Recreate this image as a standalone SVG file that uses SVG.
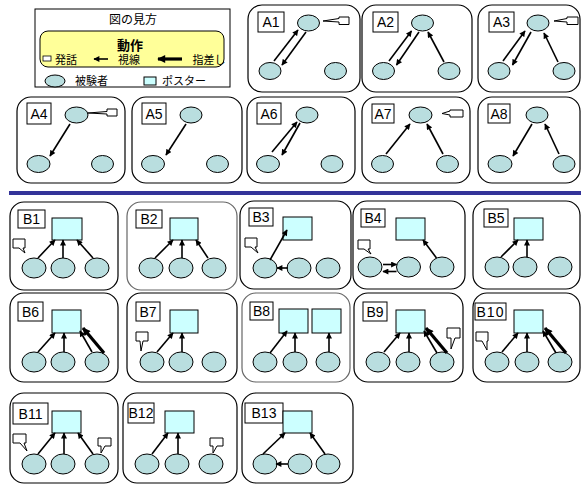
<svg xmlns="http://www.w3.org/2000/svg" width="581" height="484" viewBox="0 0 581 484">
<defs>
<style>
.box{fill:#fff;stroke:#000;stroke-width:1.2}
.box2{fill:#fff;stroke:#666;stroke-width:1.2}
.lb{fill:#fff;stroke:#000;stroke-width:1}
.lt{font-family:"Liberation Sans",Arial,sans-serif;font-size:14px;text-anchor:middle;fill:#000}
.p{fill:#B9DEDF;stroke:#000;stroke-width:1}
.ps{fill:#CCFFFF;stroke:#000;stroke-width:1}
.bb{fill:#fff;stroke:#000;stroke-width:1;stroke-linejoin:round}
.g{stroke:#000;stroke-width:1.6;fill:none;marker-end:url(#ah)}
.t{stroke:#000;stroke-width:3.2;fill:none;marker-end:url(#aht)}
.jp{font-family:"Liberation Sans","Noto Sans CJK JP",sans-serif;fill:#000}
</style>
<marker id="ah" viewBox="0 0 10 10" refX="9" refY="5" markerWidth="7" markerHeight="6" markerUnits="userSpaceOnUse" orient="auto"><path d="M0,0 L10,5 L0,10 z" fill="#000"/></marker>
<marker id="aht" viewBox="0 0 10 10" refX="9" refY="5" markerWidth="9" markerHeight="8" markerUnits="userSpaceOnUse" orient="auto"><path d="M0,0 L10,5 L0,10 z" fill="#000"/></marker>
</defs>
<rect width="581" height="484" fill="#fff"/>

<g id="legend">
<rect x="35" y="9" width="195" height="78" fill="#fff" stroke="#000" stroke-width="1"/>
<text class="jp" x="133" y="24" font-size="12" text-anchor="middle">図の見方</text>
<rect x="40" y="31" width="184" height="36" rx="8" fill="#FFFF99" stroke="#000" stroke-width="1"/>
<text class="jp" x="130" y="50" font-size="13" font-weight="bold" text-anchor="middle">動作</text>
<rect x="43" y="56" width="8" height="5" fill="#fff" stroke="#000" stroke-width="0.8"/>
<text class="jp" x="55" y="63.5" font-size="11">発話</text>
<line x1="108" y1="59" x2="94" y2="59" class="g"/>
<text class="jp" x="129" y="63.5" font-size="11" text-anchor="middle">視線</text>
<line x1="182" y1="59" x2="158" y2="59" class="t"/>
<text class="jp" x="209" y="63.5" font-size="11" text-anchor="middle">指差し</text>
<ellipse cx="55" cy="81" rx="10" ry="6" class="p"/>
<text class="jp" x="75" y="85" font-size="11">被験者</text>
<rect x="144" y="77" width="12" height="8" class="ps"/>
<text class="jp" x="162" y="85" font-size="11">ポスター</text>
</g>

<g id="A1">
<rect x="248" y="5" width="112" height="87" rx="14" class="box"/>
<rect x="258" y="12" width="26" height="20" class="lb"/><text x="271" y="27" class="lt">A1</text>
<ellipse cx="308.5" cy="23" rx="11" ry="8" class="p"/>
<ellipse cx="270" cy="71" rx="11" ry="8.5" class="p"/>
<ellipse cx="335.5" cy="71" rx="11" ry="8.5" class="p"/>
<path d="M323,21 L339,18.5 V17 H349 V24.5 H339 V22 Z" class="bb"/>
</g>
<g id="A2">
<rect x="362" y="5" width="110" height="87" rx="14" class="box"/>
<rect x="373" y="12" width="25" height="20" class="lb"/><text x="385.5" y="27" class="lt">A2</text>
<ellipse cx="422.5" cy="23" rx="11" ry="8" class="p"/>
<ellipse cx="383.5" cy="71" rx="11" ry="8.5" class="p"/>
<ellipse cx="449" cy="71" rx="11" ry="8.5" class="p"/>
</g>
<g id="A3">
<rect x="478" y="5" width="102" height="87" rx="14" class="box"/>
<rect x="489" y="12" width="25" height="20" class="lb"/><text x="501.5" y="27" class="lt">A3</text>
<ellipse cx="538" cy="23" rx="11" ry="8" class="p"/>
<ellipse cx="499" cy="71" rx="11" ry="8.5" class="p"/>
<ellipse cx="564" cy="71" rx="11" ry="8.5" class="p"/>
<path d="M554,21 L567,18.5 V17 H578 V24.5 H567 V22 Z" class="bb"/>
</g>
<g id="A4">
<rect x="17" y="97" width="108" height="86" rx="14" class="box"/>
<rect x="27" y="103" width="24" height="21" class="lb"/><text x="39" y="119" class="lt">A4</text>
<ellipse cx="76.5" cy="115" rx="11.5" ry="8" class="p"/>
<ellipse cx="38.5" cy="164" rx="11.5" ry="8.5" class="p"/>
<ellipse cx="102.5" cy="164" rx="11" ry="8.5" class="p"/>
<path d="M88,113 L107,111.5 V109 H117 V116 H107 V114 Z" class="bb"/>
</g>
<g id="A5">
<rect x="132" y="97" width="110" height="86" rx="14" class="box"/>
<rect x="142" y="103" width="24" height="21" class="lb"/><text x="154" y="119" class="lt">A5</text>
<ellipse cx="191" cy="115" rx="11" ry="8" class="p"/>
<ellipse cx="153" cy="164" rx="11.5" ry="8.5" class="p"/>
<ellipse cx="217.5" cy="164" rx="11" ry="8.5" class="p"/>
</g>
<g id="A6">
<rect x="247" y="97" width="108" height="86" rx="14" class="box"/>
<rect x="257" y="103" width="24" height="21" class="lb"/><text x="269" y="119" class="lt">A6</text>
<ellipse cx="307" cy="115" rx="11" ry="8" class="p"/>
<ellipse cx="268" cy="164" rx="11.5" ry="8.5" class="p"/>
<ellipse cx="332" cy="164" rx="11" ry="8.5" class="p"/>
</g>
<g id="A7">
<rect x="362" y="97" width="108" height="86" rx="14" class="box"/>
<rect x="372" y="104" width="22" height="19" class="lb"/><text x="383" y="119" class="lt">A7</text>
<ellipse cx="420.5" cy="115" rx="11.5" ry="8" class="p"/>
<ellipse cx="382.5" cy="164" rx="11" ry="8.5" class="p"/>
<ellipse cx="447.5" cy="164" rx="11" ry="8.5" class="p"/>
<path d="M442,113.5 L450,111 V110 H463 V117 H450 V115 Z" class="bb"/>
</g>
<g id="A8">
<rect x="478" y="97" width="102" height="86" rx="14" class="box"/>
<rect x="488" y="104" width="22" height="19" class="lb"/><text x="499" y="119" class="lt">A8</text>
<ellipse cx="537" cy="115" rx="11" ry="8" class="p"/>
<ellipse cx="500" cy="164" rx="12" ry="8.5" class="p"/>
<ellipse cx="564" cy="164" rx="11" ry="8.5" class="p"/>
</g>

<rect id="separator" x="9" y="191" width="572" height="4" fill="#333399"/>

<g id="B1">
<rect x="10" y="202" width="108" height="88" rx="14" class="box"/>
<rect x="18" y="210" width="27" height="18" class="lb"/><text x="31.5" y="224" class="lt">B1</text>
<rect x="52" y="218" width="30" height="22" class="ps"/>
<ellipse cx="34" cy="268" rx="12" ry="10" class="p"/>
<ellipse cx="63" cy="268" rx="12" ry="10" class="p"/>
<ellipse cx="97" cy="268" rx="12" ry="10" class="p"/>
<path d="M13,239 H25 V248 H23 L25,253 L19,248 H13 Z" class="bb"/>
</g>
<g id="B2">
<rect x="127" y="202" width="110" height="88" rx="14" class="box2"/>
<rect x="136" y="210" width="26" height="18" class="lb"/><text x="149" y="224" class="lt">B2</text>
<rect x="170" y="218" width="28" height="22" class="ps"/>
<ellipse cx="151" cy="268" rx="12" ry="10" class="p"/>
<ellipse cx="181" cy="268" rx="12" ry="10" class="p"/>
<ellipse cx="214" cy="268" rx="12" ry="10" class="p"/>
</g>
<g id="B3">
<rect x="240" y="201" width="111" height="88" rx="14" class="box"/>
<rect x="249" y="208" width="24" height="18" class="lb"/><text x="261" y="222" class="lt">B3</text>
<rect x="283" y="217" width="29" height="23" class="ps"/>
<ellipse cx="265" cy="268" rx="12" ry="10" class="p"/>
<ellipse cx="299" cy="268" rx="12" ry="10" class="p"/>
<ellipse cx="328" cy="268" rx="12" ry="10" class="p"/>
<path d="M245,238 H257 V247 H255 L258,253 L251,247 H245 Z" class="bb"/>
</g>
<g id="B4">
<rect x="353" y="201" width="112" height="88" rx="14" class="box"/>
<rect x="361" y="209" width="24" height="18" class="lb"/><text x="373" y="223" class="lt">B4</text>
<rect x="396" y="218" width="29" height="22" class="ps"/>
<ellipse cx="370" cy="267" rx="12" ry="10" class="p"/>
<ellipse cx="408.5" cy="267" rx="12" ry="10" class="p"/>
<ellipse cx="442" cy="267" rx="12" ry="10" class="p"/>
<path d="M358,240 H370 V249 H368 L371,254 L364,249 H358 Z" class="bb"/>
</g>
<g id="B5">
<rect x="473" y="201" width="107" height="88" rx="14" class="box"/>
<rect x="484" y="209" width="24" height="18" class="lb"/><text x="496" y="223" class="lt">B5</text>
<rect x="514" y="218" width="29" height="22" class="ps"/>
<ellipse cx="497" cy="267" rx="12" ry="10" class="p"/>
<ellipse cx="525" cy="267" rx="12" ry="10" class="p"/>
<ellipse cx="560" cy="267" rx="12" ry="10" class="p"/>
</g>

<g id="B6">
<rect x="10" y="293" width="108" height="89" rx="14" class="box"/>
<rect x="18" y="302" width="25" height="19" class="lb"/><text x="30.5" y="317" class="lt">B6</text>
<rect x="52" y="310" width="29" height="23" class="ps"/>
<ellipse cx="34" cy="362" rx="12" ry="10" class="p"/>
<ellipse cx="63" cy="362" rx="12" ry="10" class="p"/>
<ellipse cx="97" cy="362" rx="12" ry="10" class="p"/>
</g>
<g id="B7">
<rect x="127" y="293" width="110" height="89" rx="14" class="box"/>
<rect x="136" y="302" width="24" height="19" class="lb"/><text x="148" y="317" class="lt">B7</text>
<rect x="170" y="310" width="28" height="23" class="ps"/>
<ellipse cx="152" cy="362" rx="12" ry="10" class="p"/>
<ellipse cx="181" cy="362" rx="12" ry="10" class="p"/>
<ellipse cx="214" cy="362" rx="12" ry="10" class="p"/>
<path d="M136,332 H148 V341 H143 L141,351 L140,341 H136 Z" class="bb"/>
</g>
<g id="B8">
<rect x="242" y="293" width="108" height="89" rx="14" class="box2"/>
<rect x="250" y="302" width="23" height="18" class="lb"/><text x="261.5" y="316" class="lt">B8</text>
<rect x="279" y="309" width="29" height="24" class="ps"/>
<rect x="312" y="309" width="29" height="24" class="ps"/>
<ellipse cx="265" cy="362" rx="12" ry="10" class="p"/>
<ellipse cx="295" cy="362" rx="12" ry="10" class="p"/>
<ellipse cx="328" cy="362" rx="12" ry="10" class="p"/>
</g>
<g id="B9">
<rect x="354" y="293" width="109" height="89" rx="14" class="box"/>
<rect x="363" y="302" width="24" height="19" class="lb"/><text x="375" y="317" class="lt">B9</text>
<rect x="396" y="310" width="29" height="23" class="ps"/>
<ellipse cx="378" cy="362" rx="12" ry="10" class="p"/>
<ellipse cx="408" cy="362" rx="12" ry="10" class="p"/>
<ellipse cx="442" cy="362" rx="12" ry="10" class="p"/>
<path d="M447,328 H460 V338 H455 L451,349 L451,338 H447 Z" class="bb"/>
</g>
<g id="B10">
<rect x="473" y="293" width="107" height="89" rx="14" class="box"/>
<rect x="475" y="303" width="31" height="17" class="lb"/><text x="490.5" y="317" class="lt" letter-spacing="1">B10</text>
<rect x="514" y="310" width="29" height="23" class="ps"/>
<ellipse cx="497" cy="362" rx="12" ry="10" class="p"/>
<ellipse cx="527" cy="362" rx="12" ry="10" class="p"/>
<ellipse cx="560" cy="362" rx="12" ry="10" class="p"/>
<path d="M476,332 H488 V341 H487 L487,350 L482,341 H476 Z" class="bb"/>
</g>

<g id="B11">
<rect x="10" y="393" width="108" height="90" rx="14" class="box"/>
<rect x="13" y="403" width="35" height="21" class="lb"/><text x="30.5" y="419" class="lt">B11</text>
<rect x="52" y="411" width="29" height="22" class="ps"/>
<ellipse cx="34" cy="464" rx="12" ry="10" class="p"/>
<ellipse cx="63" cy="464" rx="12" ry="10" class="p"/>
<ellipse cx="97" cy="464" rx="12" ry="10" class="p"/>
<path d="M13,434 H26 V443 H24 L27,451 L20,443 H13 Z" class="bb"/>
<path d="M98,438 H111 V446 H105 L101,453 L101,446 H98 Z" class="bb"/>
</g>
<g id="B12">
<rect x="123" y="393" width="114" height="90" rx="14" class="box"/>
<rect x="128" y="403" width="26" height="20" class="lb"/><text x="141" y="418" class="lt">B12</text>
<rect x="165" y="411" width="29" height="22" class="ps"/>
<ellipse cx="147" cy="464" rx="12" ry="10" class="p"/>
<ellipse cx="177" cy="464" rx="12" ry="10" class="p"/>
<ellipse cx="211" cy="464" rx="12" ry="10" class="p"/>
<path d="M210,438 H223 V446 H217 L213,453 L213,446 H210 Z" class="bb"/>
</g>
<g id="B13">
<rect x="242" y="393" width="111" height="90" rx="14" class="box"/>
<rect x="245" y="403" width="38" height="20" class="lb"/><text x="264" y="418" class="lt">B13</text>
<rect x="283" y="411" width="29" height="22" class="ps"/>
<ellipse cx="265" cy="464" rx="12" ry="10" class="p"/>
<ellipse cx="300" cy="464" rx="12" ry="10" class="p"/>
<ellipse cx="328" cy="464" rx="12" ry="10" class="p"/>
</g>

<g id="connectors">
<line x1="274" y1="61" x2="298" y2="30" class="g"/>
<line x1="306" y1="32" x2="282" y2="65" class="g"/>
<line x1="389" y1="61" x2="411.5" y2="31" class="g"/>
<line x1="419" y1="32" x2="396.5" y2="65" class="g"/>
<line x1="444" y1="62" x2="428" y2="32" class="g"/>
<line x1="503" y1="61" x2="525" y2="31" class="g"/>
<line x1="531" y1="32" x2="512.5" y2="65" class="g"/>
<line x1="558" y1="62" x2="544" y2="33" class="g"/>
<line x1="70" y1="124" x2="50" y2="156" class="g" stroke-width="2"/>
<line x1="186" y1="124" x2="166" y2="155" class="g"/>
<line x1="272" y1="152" x2="297" y2="122" class="g" stroke-width="2"/>
<line x1="300" y1="123" x2="282" y2="155" class="g" stroke-width="2"/>
<line x1="386" y1="154" x2="410" y2="124" class="g"/>
<line x1="443" y1="154" x2="427" y2="124" class="g"/>
<line x1="532" y1="124" x2="513" y2="156" class="g"/>
<line x1="559" y1="154" x2="545" y2="124" class="g"/>

<line x1="38" y1="258" x2="55" y2="240" class="g"/>
<line x1="63" y1="258" x2="63" y2="240" class="g"/>
<line x1="93" y1="258" x2="77" y2="240" class="g"/>
<line x1="155" y1="258" x2="173" y2="240" class="g"/>
<line x1="182" y1="258" x2="182" y2="240" class="g"/>
<line x1="208" y1="258" x2="196" y2="240" class="g"/>
<line x1="270" y1="260" x2="287" y2="230" class="g"/>
<line x1="288" y1="268" x2="277" y2="268" class="g" stroke-width="2.2"/>
<line x1="436.5" y1="258" x2="423" y2="240" class="g"/>
<line x1="383" y1="264.5" x2="396.5" y2="264.5" class="g" stroke-width="2"/>
<line x1="396.5" y1="271.5" x2="383" y2="271.5" class="g" stroke-width="2"/>
<line x1="501" y1="257" x2="518" y2="240" class="g"/>
<line x1="527" y1="257" x2="527" y2="240" class="g"/>

<line x1="38" y1="352" x2="55" y2="333" class="g"/>
<line x1="64" y1="352" x2="64" y2="333" class="g"/>
<line x1="92" y1="352" x2="80" y2="331" class="g"/>
<line x1="104" y1="353" x2="83" y2="328" class="t"/>
<line x1="157" y1="352" x2="173" y2="333" class="g"/>
<line x1="182" y1="352" x2="182" y2="333" class="g"/>
<line x1="270" y1="353" x2="287" y2="331" class="g" stroke-width="2"/>
<line x1="295" y1="352" x2="295" y2="333" class="g" stroke-width="2.2"/>
<line x1="329" y1="352" x2="329" y2="333" class="g"/>
<line x1="384" y1="352" x2="400" y2="333" class="g"/>
<line x1="409" y1="352" x2="409" y2="333" class="g"/>
<line x1="437" y1="353" x2="424" y2="331" class="g"/>
<line x1="447" y1="353" x2="426" y2="328" class="t"/>
<line x1="502" y1="352" x2="518" y2="333" class="g"/>
<line x1="527" y1="352" x2="527" y2="333" class="g"/>
<line x1="556" y1="353" x2="543" y2="331" class="g"/>
<line x1="566" y1="353" x2="545" y2="328" class="t"/>

<line x1="38" y1="454" x2="55" y2="433" class="g"/>
<line x1="64" y1="454" x2="64" y2="433" class="g"/>
<line x1="93" y1="454" x2="78" y2="433" class="g"/>
<line x1="152" y1="454" x2="168" y2="433" class="g"/>
<line x1="178" y1="454" x2="178" y2="433" class="g" stroke-width="2"/>
<line x1="263" y1="454" x2="285" y2="433" class="g"/>
<line x1="325" y1="454" x2="310" y2="433" class="g"/>
<line x1="288" y1="464" x2="276" y2="464" class="g" stroke-width="2"/>
</g>
</svg>
